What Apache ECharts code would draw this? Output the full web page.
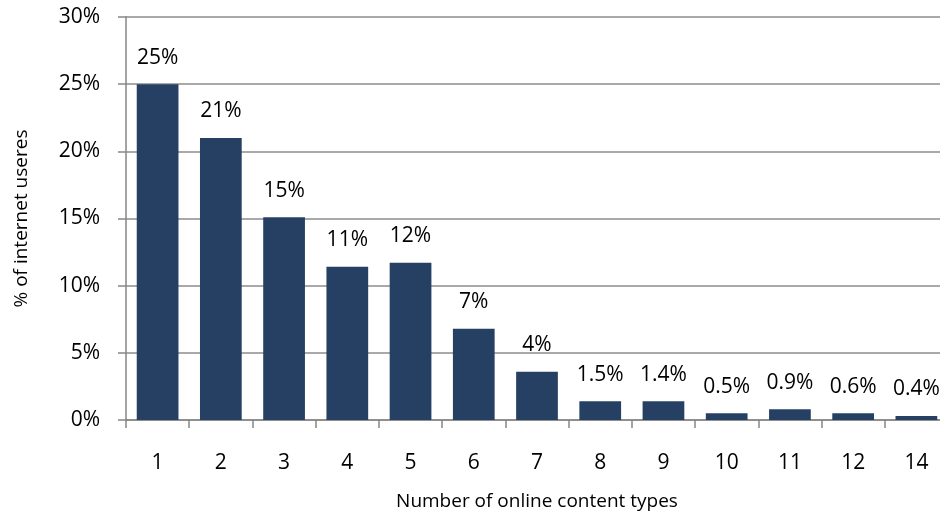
<!DOCTYPE html>
<html>
<head>
<meta charset="utf-8">
<script src="https://cdn.jsdelivr.net/npm/echarts@6/dist/echarts.min.js"></script>
<style>
    html, body {margin: 0; padding: 0; background: #fff;}
    #myChart {width: 940px; height: 514px;}
</style>
</head>
<body>
<div id="myChart"></div>
<script>
    // categories on the x axis (no 13 in the source)
    var contentTypes = ['1', '2', '3', '4', '5', '6', '7', '8', '9', '10', '11', '12', '14'];
    // bar heights, in %
    var userShare = [25, 21, 15.1, 11.4, 11.7, 6.8, 3.6, 1.4, 1.4, 0.5, 0.8, 0.5, 0.3];
    // labels as printed on the chart
    var shareLabels = ['25%', '21%', '15%', '11%', '12%', '7%', '4%', '1.5%', '1.4%', '0.5%', '0.9%', '0.6%', '0.4%'];
    var yTicks = [0, 5, 10, 15, 20, 25, 30];

    var font = '"Open Sans", sans-serif';
    var myChart = echarts.init(document.getElementById('myChart'));

    var option = {
        animation: false,
        grid: {
            left: 126,
            top: 17,
            width: 822,
            height: 403,
            outerBoundsMode: 'none'
        },
        xAxis: {
            type: 'category',
            data: contentTypes,
            name: 'Number of online content types',
            nameLocation: 'middle',
            nameGap: 72,
            nameTextStyle: {color: '#000', fontSize: 19, fontFamily: font},
            axisLine: {lineStyle: {color: '#868686', width: 1.5}},
            axisTick: {show: true, length: 8, lineStyle: {color: '#868686', width: 1.5}},
            axisLabel: {color: '#000', fontSize: 21, fontFamily: font, margin: 33}
        },
        yAxis: {
            type: 'value',
            min: yTicks[0],
            max: yTicks[yTicks.length - 1],
            interval: 5,
            name: '% of internet useres',
            nameLocation: 'middle',
            nameGap: 95,
            nameTextStyle: {color: '#000', fontSize: 19, fontFamily: font},
            axisLine: {show: true, lineStyle: {color: '#868686', width: 1.5}},
            axisTick: {show: true, length: 8, lineStyle: {color: '#868686', width: 1.5}},
            axisLabel: {
                color: '#000', fontSize: 21, fontFamily: font, margin: 26,
                formatter: function (v) {
                    return v + '%';
                }
            },
            splitLine: {show: true, lineStyle: {color: '#8c8c8c', width: 1.5}}
        },
        series: [
            {
                type: 'bar',
                data: userShare,
                barCategoryGap: '34%',
                itemStyle: {color: '#264064'},
                label: {
                    show: true,
                    position: 'top',
                    distance: 16,
                    color: '#000',
                    fontSize: 21,
                    fontFamily: font,
                    formatter: function (p) {
                        return shareLabels[p.dataIndex];
                    }
                }
            }
        ]
    };
    myChart.setOption(option);
</script>
</body>
</html>
